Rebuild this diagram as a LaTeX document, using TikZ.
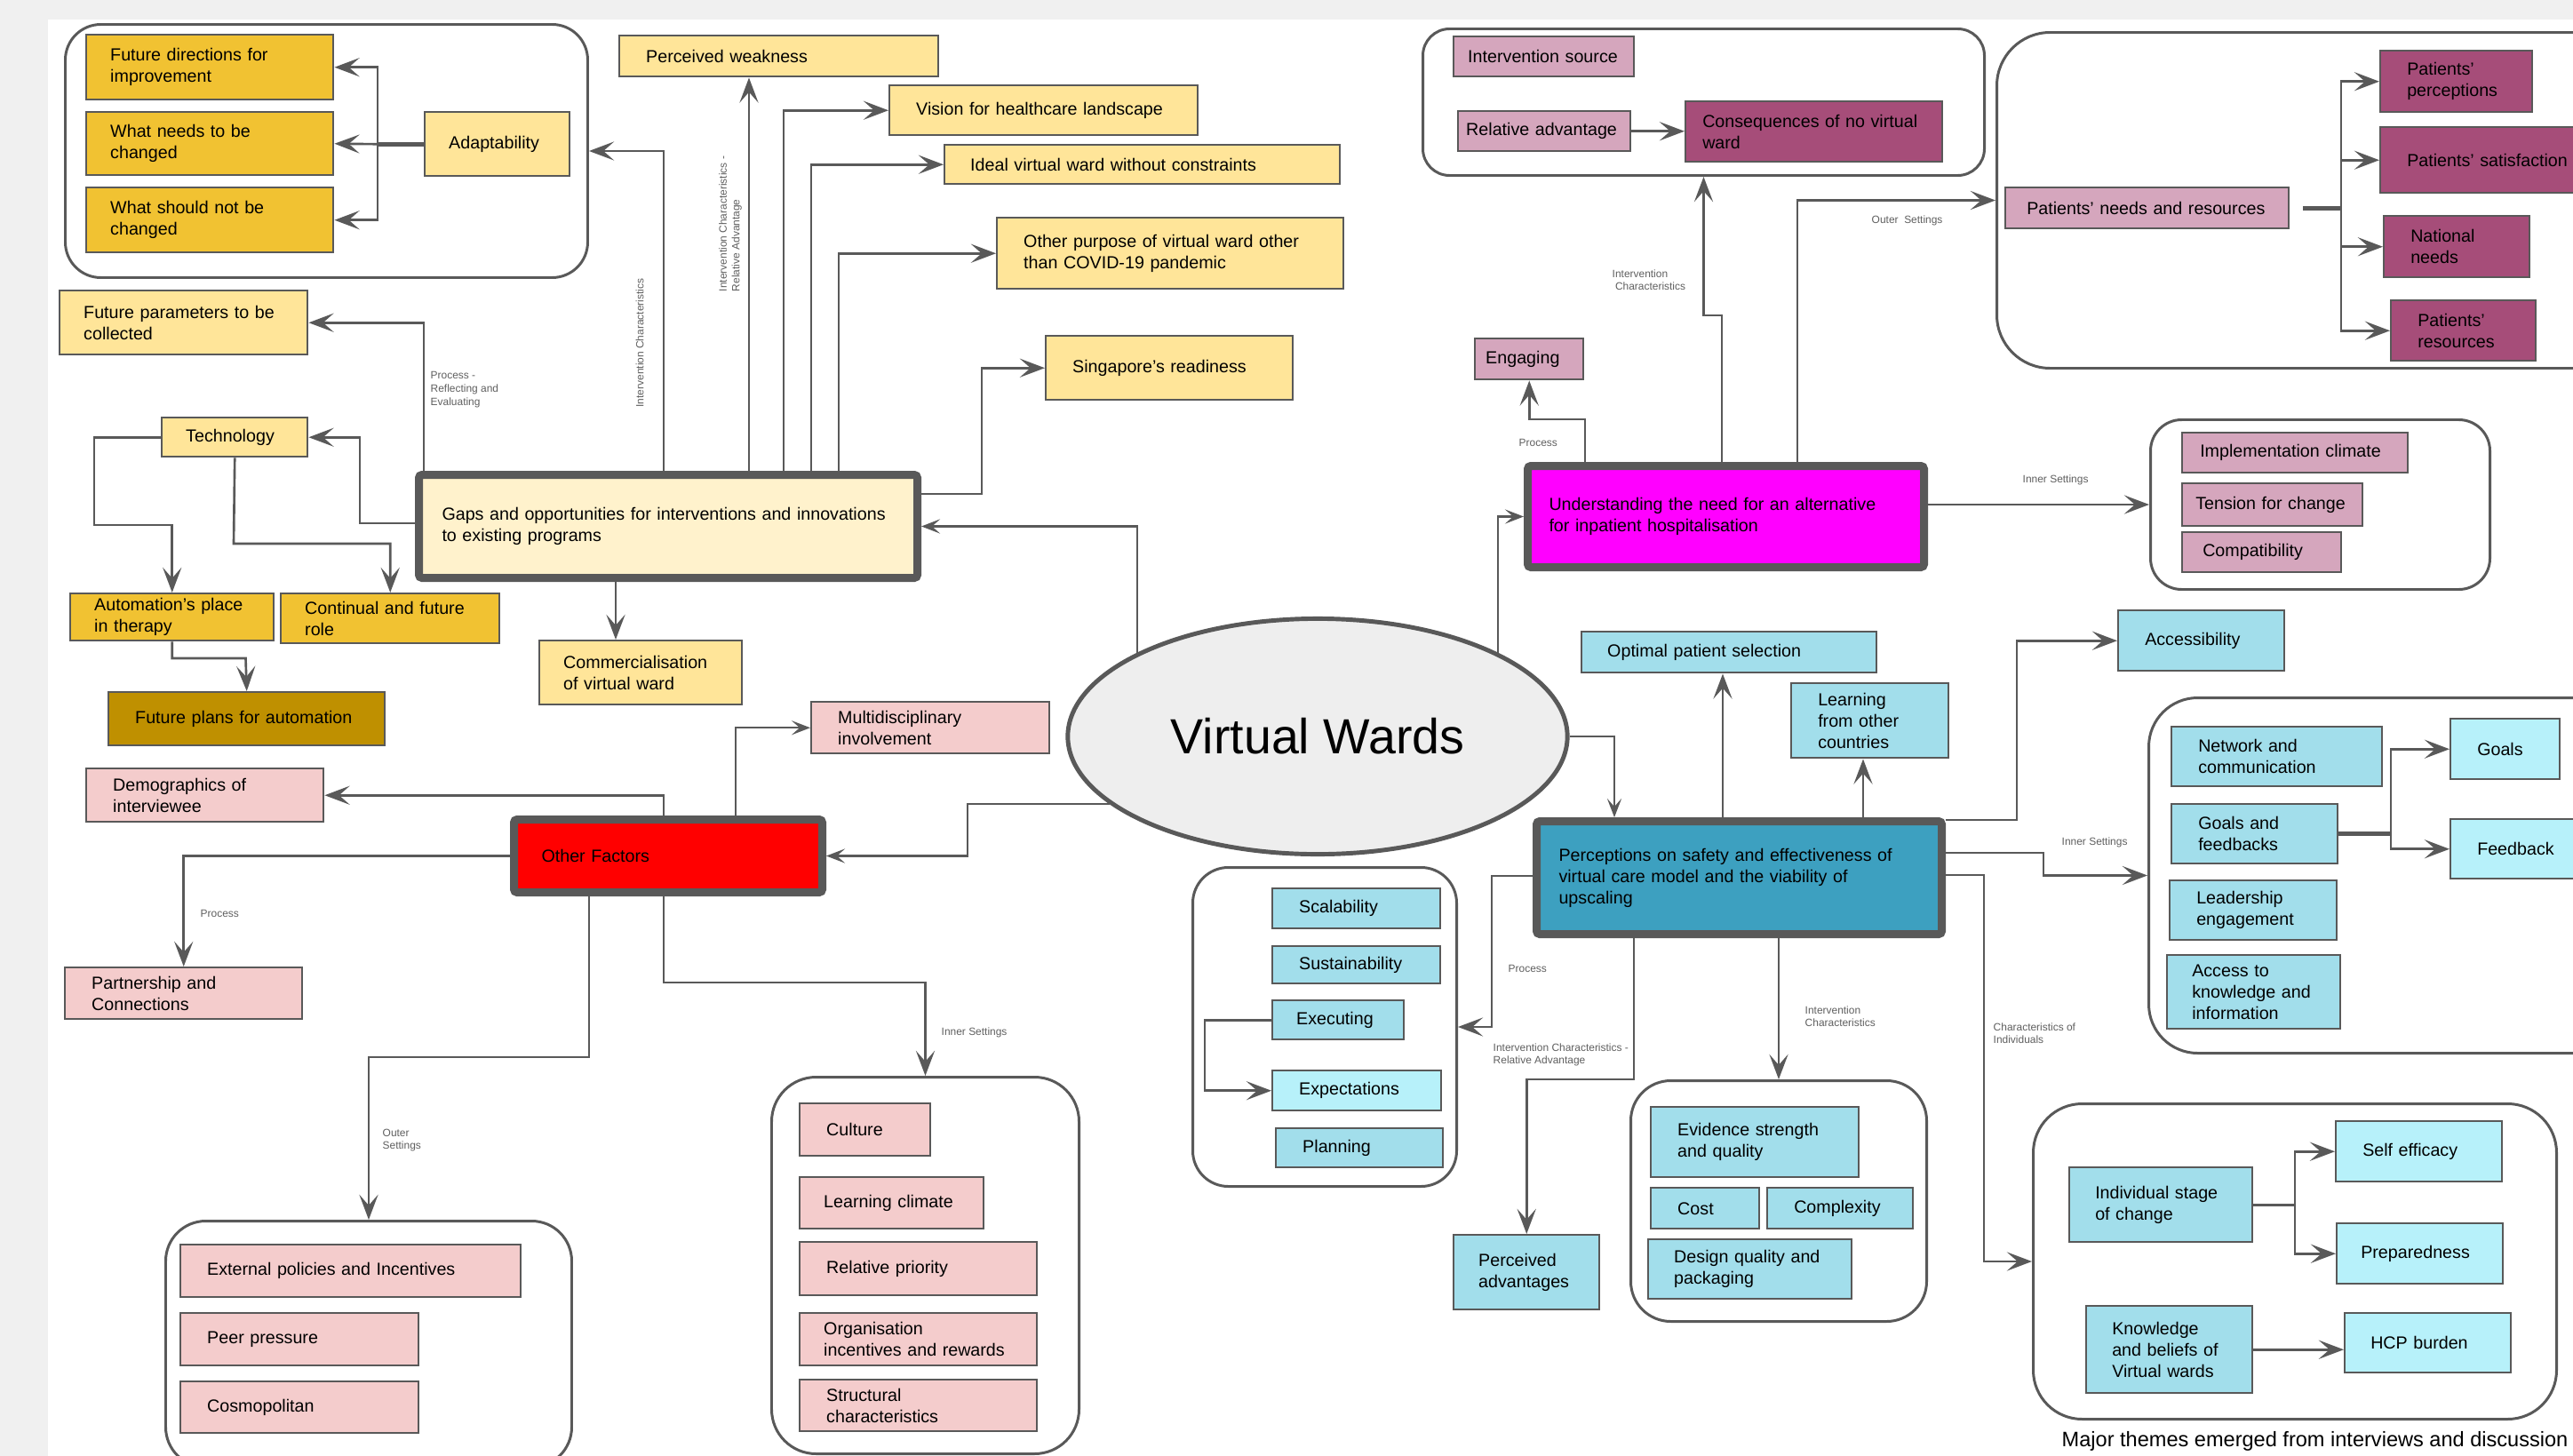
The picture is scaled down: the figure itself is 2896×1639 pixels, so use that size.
\documentclass[tikz,border=0pt]{standalone}
\usepackage{fontspec}
\setmainfont{Liberation Sans}
\usetikzlibrary{arrows.meta,shapes.geometric}
\definecolor{pagebg}{HTML}{F0F0F0}
\definecolor{edge}{HTML}{595959}
\definecolor{goldbox}{HTML}{F1C232}
\definecolor{ltyellow}{HTML}{FFE599}
\definecolor{gapsfill}{HTML}{FFF2CC}
\definecolor{darkgold}{HTML}{BF9000}
\definecolor{pinkbox}{HTML}{F4CCCC}
\definecolor{ltpurple}{HTML}{D5A6BD}
\definecolor{dkpurple}{HTML}{A64D79}
\definecolor{cyanbox}{HTML}{A2DEEB}
\definecolor{ltcyan}{HTML}{B7F1FA}
\definecolor{tealbox}{HTML}{3DA0C0}
\definecolor{ofred}{HTML}{FF0000}
\definecolor{ofmagenta}{HTML}{FF00FF}
\definecolor{ellfill}{HTML}{EEEEEE}
\definecolor{lblgray}{HTML}{606060}
\newcommand\boxfont{\fontsize{5.6}{6.85}\selectfont\hyphenpenalty=10000\exhyphenpenalty=10000}
\newcommand\lblfont{\fontsize{3.4}{4.15}\selectfont}
\begin{document}
\begin{tikzpicture}[x=0.01cm, y=-0.01cm,
    box/.style={draw=edge, line width=0.7pt, anchor=north west, align=left, inner ysep=0pt, font=\boxfont},
    mainbox/.style={box, line width=2.56pt, rounded corners=1pt},
    cont/.style={draw=edge, line width=0.85pt, fill=white, anchor=north west, inner sep=0pt},
    ln/.style={draw=edge, line width=0.75pt},
    arr/.style={ln, -{Stealth[length=8pt, width=6pt, inset=3.4pt]}},
    arrs/.style={ln, line width=0.6pt, -{Stealth[length=6pt, width=4.6pt, inset=2.6pt]}},
    thk/.style={draw=edge, line width=1.3pt},
    lbl/.style={font=\lblfont, text=lblgray, inner sep=0pt, align=left}]
  \useasboundingbox (0,0) rectangle (2896,1639);
  \fill[pagebg] (0,0) rectangle (2896,1639);
  \fill[white] (54,22) rectangle (2896,1639);

  % group frames
  \foreach \nm/\xa/\ya/\xb/\yb/\rr in {cadapt/72/26/660/311/40, cinterv/1600/31/2232/196/30,
      cpat/2246/35/2960/413/60, cclim/2419/471/2801/662/35, cnet/2417/784/2960/1184/55,
      cindiv/2287/1241/2876/1596/55, cichar/1834/1215/2167/1486/45, cproc/1341/975/1638/1334/40,
      cinner/867/1211/1213/1635/50, couter/185/1373/642/1650/45}{
    \pgfmathsetlengthmacro\bw{(\xb-\xa)*0.01cm}
    \pgfmathsetlengthmacro\bh{(\yb-\ya)*0.01cm}
    \pgfmathsetlengthmacro\rc{\rr*0.01cm}
    \node[cont, minimum width=\bw, minimum height=\bh, rounded corners=\rc] (\nm) at (\xa,\ya) {};
  }

  % central ellipse
  \node[ellipse, draw=edge, line width=1.4pt, fill=ellfill, minimum width=5.62cm, minimum height=2.65cm,
    inner sep=0pt, font=\fontsize{15.8}{18}\selectfont] (vw) at (1483,829) {Virtual Wards};

  % main themes
  \foreach \nm/\xa/\ya/\xb/\yb/\pd/\fc/\txt in {
      gaps/467/530/1028/646/26/gapsfill/{Gaps and opportunities for interventions and innovations\\to existing programs},
      othf/574/918/921/1000/31/ofred/{Other Factors},
      under/1715/520/2161/634/24/ofmagenta/{Understanding the need for an alternative\\for inpatient hospitalisation},
      percep/1725/920/2181/1047/25/tealbox/{Perceptions on safety and effectiveness of\\virtual care model and the viability of\\upscaling}}{
    \pgfmathsetlengthmacro\tw{(\xb-\xa-2*\pd)*0.01cm}
    \pgfmathsetlengthmacro\bh{(\yb-\ya)*0.01cm}
    \pgfmathsetlengthmacro\ps{\pd*0.01cm}
    \node[mainbox, fill=\fc, text width=\tw, minimum height=\bh, inner xsep=\ps] (\nm) at (\xa,\ya) {\txt};
  }

  % sub-themes, one list per colour
  \foreach \fc/\items in {%
    goldbox/{fdir/96/38/374/111/27/{Future directions for\\improvement},
      needs/96/125/374/196/27/{What needs to be\\changed},
      notchg/96/210/374/283/27/{What should not be\\changed},
      autom/78/667/307/720/27/{Automation’s place\\in therapy},
      contin/315/667/561/723/27/{Continual and future\\role}},%
    ltyellow/{adapt/477/125/640/197/27/{Adaptability},
      fparam/66/326/345/398/27/{Future parameters to be\\collected},
      tech/181/469/345/513/27/{Technology},
      pweak/696/39/1055/85/30/{Perceived weakness},
      vision/1000/95/1347/151/30/{Vision for healthcare landscape},
      ideal/1062/162/1507/206/29/{Ideal virtual ward without constraints},
      otherp/1121/244/1511/324/30/{Other purpose of virtual ward other\\than COVID-19 pandemic},
      sing/1176/377/1454/449/30/{Singapore’s readiness},
      commerc/606/720/834/792/27/{Commercialisation\\of virtual ward}},%
    darkgold/{fplan/121/778/432/838/30/{Future plans for automation}},%
    pinkbox/{demog/96/864/363/924/30/{Demographics of\\interviewee},
      multi/912/789/1180/847/30/{Multidisciplinary\\involvement},
      partner/72/1088/339/1146/30/{Partnership and\\Connections},
      extpol/202/1400/585/1459/30/{External policies and Incentives},
      peer/202/1477/470/1536/30/{Peer pressure},
      cosmo/202/1554/470/1612/30/{Cosmopolitan},
      culture/899/1241/1046/1300/30/{Culture},
      learnc/899/1324/1106/1382/27/{Learning climate},
      relpri/899/1397/1166/1457/30/{Relative priority},
      orgin/899/1477/1166/1536/27/{Organisation\\incentives and rewards},
      struct/899/1552/1166/1610/30/{Structural\\characteristics}},%
    ltpurple/{intsrc/1635/40/1838/85/16/{Intervention source},
      relad/1640/124/1834/169/9/{Relative advantage},
      engag/1659/380/1781/426/12/{Engaging},
      pneeds/2256/210/2575/256/24/{Patients’ needs and resources},
      implc/2455/486/2709/531/20/{Implementation climate},
      tens/2455/543/2658/591/15/{Tension for change},
      compat/2455/598/2634/643/23/{Compatibility}},%
    dkpurple/{conseq/1896/113/2185/181/19/{Consequences of no virtual\\ward},
      pperc/2678/56/2849/125/30/{Patients’\\perceptions},
      psat/2678/142/2940/216/30/{Patients’ satisfaction},
      natn/2682/242/2846/311/30/{National\\needs},
      pres/2690/337/2853/405/30/{Patients’\\resources}},%
    cyanbox/{optim/1779/710/2111/756/29/{Optimal patient selection},
      learn/2015/768/2192/852/30/{Learning\\from other\\countries},
      access/2383/686/2570/754/30/{Accessibility},
      netw/2443/817/2680/884/30/{Network and\\communication},
      goalsf/2443/904/2630/971/30/{Goals and\\feedbacks},
      leader/2441/990/2629/1057/30/{Leadership\\engagement},
      acckn/2438/1074/2633/1157/28/{Access to\\knowledge and\\information},
      indstg/2328/1313/2534/1397/29/{Individual stage\\of change},
      know/2347/1469/2534/1567/29/{Knowledge\\and beliefs of\\Virtual wards},
      evid/1857/1245/2091/1324/30/{Evidence strength\\and quality},
      cost/1857/1336/1979/1382/30/{Cost},
      cmplx/1988/1336/2152/1382/30/{Complexity},
      design/1854/1394/2083/1461/29/{Design quality and\\packaging},
      padv/1635/1389/1799/1473/28/{Perceived\\advantages},
      scal/1431/999/1620/1044/30/{Scalability},
      sust/1431/1064/1620/1106/30/{Sustainability},
      exec/1431/1125/1579/1169/27/{Executing},
      plan/1435/1269/1623/1313/30/{Planning}},%
    ltcyan/{goals/2757/808/2880/876/30/{Goals},
      feedb/2757/921/2920/988/30/{Feedback},
      selfe/2628/1261/2815/1329/30/{Self efficacy},
      prep/2629/1376/2816/1444/27/{Preparedness},
      hcp/2638/1477/2825/1544/29/{HCP burden},
      expect/1431/1204/1621/1249/30/{Expectations}}}{
    \foreach \nm/\xa/\ya/\xb/\yb/\pd/\txt in \items {
      \pgfmathsetlengthmacro\tw{(\xb-\xa-2*\pd)*0.01cm}
      \pgfmathsetlengthmacro\bh{(\yb-\ya)*0.01cm}
      \pgfmathsetlengthmacro\ps{\pd*0.01cm}
      \node[box, fill=\fc, text width=\tw, minimum height=\bh, inner xsep=\ps] (\nm) at (\xa,\ya) {\txt};
    }
  }

  % bend points
  \coordinate (jA) at (425,0);
  \coordinate (kAd) at (747,0);
  \coordinate (kFp) at (477,0);
  \coordinate (kTe) at (405,589);
  \coordinate (kAu) at (106,591);
  \coordinate (kCo) at (263,612);
  \coordinate (kFa) at (276.5,741);
  \coordinate (kCm) at (693,0);
  \coordinate (kPw) at (843,0);
  \coordinate (kVi) at (882,0);
  \coordinate (kId) at (913,0);
  \coordinate (kOp) at (944,0);
  \coordinate (kSg) at (1105,556);
  \coordinate (kEp) at (1817,0);
  \coordinate (kEo) at (1089,0);
  \coordinate (kMu) at (828,0);
  \coordinate (kDe) at (747,0);
  \coordinate (kOu) at (663,1190);
  \coordinate (kIn) at (747,1106);
  \coordinate (kEn) at (1784,472);
  \coordinate (kCi) at (1938,355);
  \coordinate (kCp) at (2023,0);
  \coordinate (jP) at (2635,0);
  \coordinate (kOs) at (1939,0);
  \coordinate (kLe) at (2097,0);
  \coordinate (kAc) at (2270,923);
  \coordinate (kNe) at (2300,960);
  \coordinate (kIv) at (2233,985);
  \coordinate (kPr) at (1679,986);
  \coordinate (kPa) at (1839,1215);
  \coordinate (jG) at (2691,0);
  \coordinate (jI) at (2583,0);
  \coordinate (kEx) at (1356,0);

  % adaptability
  \draw[thk] (adapt.west) -- (adapt.west -| jA);
  \draw[arr] (adapt.west -| jA) |- (fdir.east);
  \draw[arr] (adapt.west -| jA) -- (needs.east);
  \draw[arr] (adapt.west -| jA) |- (notchg.east);

  % gaps and opportunities
  \draw[arr] (gaps.north -| kAd) |- (cadapt.east);
  \draw[arr] (gaps.north -| kFp) |- (fparam.east);
  \draw[arr] (gaps.west |- kTe) -- (kTe) |- (tech.east);
  \draw[arr] (tech.west) -| (kAu) -| (autom.north);
  \draw[arr] (tech.south) -- (kCo) -| (contin.north);
  \draw[arr] (autom.south) |- (kFa) -- (fplan.north);
  \draw[arr] (gaps.south -| kCm) -- (commerc.north -| kCm);
  \draw[arr] (gaps.north -| kPw) -- (pweak.south -| kPw);
  \draw[arr] (gaps.north -| kVi) |- (vision.west);
  \draw[arr] (gaps.north -| kId) |- (ideal.west);
  \draw[arr] (gaps.north -| kOp) |- (otherp.west);
  \draw[arr] (gaps.east |- kSg) -- (kSg) |- (sing.west);

  % from the centre
  \draw[arrs] (vw.155) |- (gaps.east);
  \draw[arrs] (vw.25) |- (under.west);
  \draw[arrs] (vw.east) -| (percep.north -| kEp);
  \draw[arrs] (vw.198) -| (kEo |- othf.east) -- (othf.east);

  % other factors
  \draw[arrs] (othf.north -| kMu) |- (multi.west);
  \draw[arr] (othf.north -| kDe) |- (demog.east);
  \draw[arr] (othf.west) -| (partner.north);
  \draw[arr] (othf.south -| kOu) -- (kOu) -| (couter.north);
  \draw[arr] (othf.south -| kIn) -- (kIn) -| (cinner.north);

  % understanding the need
  \draw[arr] (under.north -| kEn) -- (kEn) -| (engag.south);
  \draw[arr] (under.north -| kCi) -- (kCi) -| (cinterv.south);
  \draw[arr] (under.north -| kCp) |- (cpat.west);
  \draw[arr] (under.east |- cclim.west) -- (cclim.west);
  \draw[arr] (relad.east) -- (conseq.west |- relad.east);
  \draw[thk] ([xshift=0.15cm]pneeds.east) -- (pneeds.east -| jP);
  \foreach \t in {pperc, psat, natn, pres}
    \draw[arr] (pneeds.east -| jP) |- (\t.west);

  % perceptions on safety
  \draw[arr] (percep.north -| kOs) -- (optim.south -| kOs);
  \draw[arr] (percep.north -| kLe) -- (learn.south -| kLe);
  \draw[arr] (percep.east |- kAc) -- (kAc) |- (access.west);
  \draw[arr] (percep.east |- kNe) -- (kNe) |- (cnet.west);
  \draw[arr] (percep.east |- kIv) -- (kIv) |- (cindiv.west);
  \draw[arr] (percep.west |- kPr) -- (kPr) |- (cproc.east);
  \draw[arr] (percep.south -| kPa) -- (kPa) -| (padv.north);
  \draw[arr] (percep.south -| cichar.north) -- (cichar.north);
  \draw[thk] (goalsf.east) -- (goalsf.east -| jG);
  \draw[arr] (goalsf.east -| jG) |- (goals.west);
  \draw[arr] (goalsf.east -| jG) |- (feedb.west);
  \draw[ln] (indstg.east) -- (indstg.east -| jI);
  \draw[arr] (indstg.east -| jI) |- (selfe.west);
  \draw[arr] (indstg.east -| jI) |- (prep.west);
  \draw[arr] (know.east) -- (hcp.west |- know.east);
  \draw[arr] (exec.west) -| (kEx |- expect.west) -- (expect.west);

  % connector labels
  \node[lbl, anchor=north west] (lRefl) at (484,418) {Process -\\Reflecting and\\Evaluating};
  \node[lbl, rotate=90] (lIcA) at (720,386) {Intervention Characteristics};
  \node[lbl, rotate=90] (lIcB) at (822,252) {Intervention Characteristics -\\Relative Advantage};
  \node[lbl, anchor=north west] (lIcC) at (1814,303) {Intervention\\\ Characteristics};
  \node[lbl, anchor=west] (lOutA) at (2106,248) {Outer\ \ Settings};
  \node[lbl, anchor=west] (lPrA) at (1709,498) {Process};
  \node[lbl, anchor=west] (lInA) at (2276,540) {Inner Settings};
  \node[lbl, anchor=west] (lInB) at (2320,948) {Inner Settings};
  \node[lbl, anchor=north west] (lChar) at (2243,1151) {Characteristics of\\Individuals};
  \node[lbl, anchor=west] (lPrB) at (1697,1090) {Process};
  \node[lbl, anchor=north west] (lIcD) at (1680,1174) {Intervention Characteristics -\\Relative Advantage};
  \node[lbl, anchor=north west] (lIcE) at (2031,1132) {Intervention\\Characteristics};
  \node[lbl, anchor=west] (lInC) at (1059,1162) {Inner Settings};
  \node[lbl, anchor=west] (lPrC) at (225,1028) {Process};
  \node[lbl, anchor=north west] (lOutB) at (430,1270) {Outer\\Settings};

  \node[font=\fontsize{6.7}{8}\selectfont, anchor=base west, inner sep=0pt] (caption) at (2320,1628)
    {Major themes emerged from interviews and discussion};
\end{tikzpicture}
\end{document}
